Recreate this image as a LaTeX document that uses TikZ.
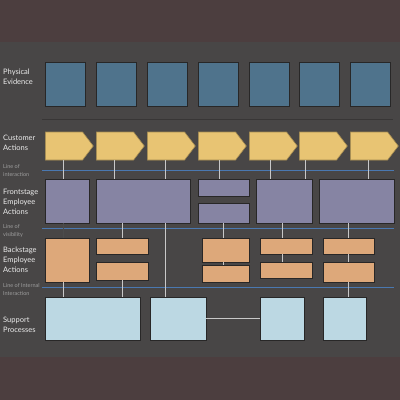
\documentclass[tikz,border=0pt]{standalone}
\usepackage{fontspec}
\setmainfont{Lato}
\usetikzlibrary{shapes.symbols}
\definecolor{bandcol}{RGB}{76,62,63}
\definecolor{bgcol}{RGB}{72,70,70}
\definecolor{evidcol}{RGB}{79,115,140}
\definecolor{custcol}{RGB}{232,196,115}
\definecolor{frontcol}{RGB}{134,132,163}
\definecolor{backcol}{RGB}{221,168,122}
\definecolor{suppcol}{RGB}{188,216,227}
\definecolor{bluecol}{RGB}{74,120,176}
\definecolor{linkcol}{RGB}{200,200,200}
\definecolor{sepcol}{RGB}{56,54,54}

\begin{document}
\begin{tikzpicture}[x=1pt, y=-1pt,
    lane/.style={font=\fontsize{7.5}{10}\selectfont, text=white!92!black, align=left, anchor=west, inner sep=0pt},
    linelabel/.style={font=\fontsize{5.5}{8}\selectfont, text=white!62!black, align=left, anchor=west, inner sep=0pt},
    box/.style={draw=black!45!bgcol, line width=0.6pt, inner sep=0pt},
    evid/.style={box, fill=evidcol, minimum width=40pt, minimum height=44pt},
    cust/.style={box, fill=custcol, draw=custcol!70!black, shape=signal, signal to=east, signal from=nowhere, signal pointer angle=105, minimum width=48pt, minimum height=28pt, anchor=west},
    front/.style={box, fill=frontcol},
    back/.style={box, fill=backcol},
    supp/.style={box, fill=suppcol, minimum height=43pt},
    link/.style={draw=linkcol, line width=0.8pt},
    darklink/.style={draw=black!70, line width=0.8pt},
    stageline/.style={draw=bluecol, line width=1.3pt}]

    % Background
    \fill[bandcol] (0,0) rectangle (400,400);
    \fill[bgcol] (0,42) rectangle (400,357);

    % Lane labels
    \node[lane] (lpe) at (3,77) {Physical\\Evidence};
    \node[lane] (lca) at (3,143) {Customer\\Actions};
    \node[linelabel] (lli) at (3,170.5) {Line of\\interaction};
    \node[lane] (lfe) at (3,202) {Frontstage\\Employee\\Actions};
    \node[linelabel] (llv) at (3,230.5) {Line of\\visibility};
    \node[lane] (lbe) at (3,260) {Backstage\\Employee\\Actions};
    \node[linelabel] (lint) at (3,289) {Line of Internal\\Interaction};
    \node[lane] (lsp) at (3,325) {Support\\Processes};

    % Separators
    \draw[sepcol, line width=1pt] (42,119.5) -- (393,119.5);
    \draw[stageline] (42,170.5) -- (394,170.5);
    \draw[stageline] (42,228.5) -- (394,228.5);
    \draw[stageline] (42,287.5) -- (394,287.5);

    % Physical evidence and customer actions
    \foreach \i/\x in {1/45, 2/96, 3/147, 4/198, 5/249, 6/299, 7/350} {
        \node[evid] (p\i) at (\x+20,84) {};
        \node[cust] (c\i) at (\x,146) {};
    }

    % Frontstage
    \node[front, minimum width=44pt, minimum height=44pt] (f1) at (67,201) {};
    \node[front, minimum width=94pt, minimum height=44pt] (f2) at (143,201) {};
    \node[front, minimum width=51pt, minimum height=17pt] (f3a) at (223.5,187.5) {};
    \node[front, minimum width=51pt, minimum height=20pt] (f3b) at (223.5,213) {};
    \node[front, minimum width=56pt, minimum height=44pt] (f4) at (284,201) {};
    \node[front, minimum width=75pt, minimum height=44pt] (f5) at (356.5,201) {};

    % Backstage
    \node[back, minimum width=44pt, minimum height=44pt] (b1) at (67,260) {};
    \node[back, minimum width=52pt, minimum height=16pt] (b2a) at (122,246) {};
    \node[back, minimum width=52pt, minimum height=18pt] (b2b) at (122,271) {};
    \node[back, minimum width=47pt, minimum height=24pt] (b3a) at (225.5,250) {};
    \node[back, minimum width=47pt, minimum height=17pt] (b3b) at (225.5,273.5) {};
    \node[back, minimum width=52pt, minimum height=16pt] (b4a) at (286,246) {};
    \node[back, minimum width=52pt, minimum height=16pt] (b4b) at (286,270) {};
    \node[back, minimum width=51pt, minimum height=16pt] (b5a) at (348.5,246) {};
    \node[back, minimum width=51pt, minimum height=20pt] (b5b) at (348.5,272) {};

    % Support processes
    \node[supp, minimum width=95pt] (s1) at (92.5,318.5) {};
    \node[supp, minimum width=56pt] (s2) at (178,318.5) {};
    \node[supp, minimum width=44pt] (s3) at (282,318.5) {};
    \node[supp, minimum width=43pt] (s4) at (344.5,318.5) {};

    % Link columns
    \foreach \n/\x in {a/63, b/114, c/122, d/165, e/219, f/223, g/270, h/282, i/305, j/348, k/368}
        \coordinate (v\n) at (\x,0);

    % Links
    \draw[link] (c1.south -| va) -- (f1.north -| va);
    \draw[darklink] (f1.south -| va) -- (b1.north -| va);
    \draw[link] (b1.south -| va) -- (s1.north -| va);
    \draw[link] (c2.south -| vb) -- (f2.north -| vb);
    \draw[link] (f2.south -| vc) -- (b2a.north -| vc);
    \draw[link] (b2b.south -| vc) -- (s1.north -| vc);
    \draw[link] (c3.south -| vd) -- (f2.north -| vd);
    \draw[link] (f2.south -| vd) -- (s2.north -| vd);
    \draw[link] (c4.south -| ve) -- (f3a.north -| ve);
    \draw[link] (f3b.south -| vf) -- (b3a.north -| vf);
    \draw[link] (b3a.south -| vf) -- (b3b.north -| vf);
    \draw[link] (c5.south -| vg) -- (f4.north -| vg);
    \draw[link] (c6.south -| vi) -- (f4.north -| vi);
    \draw[link] (f4.south -| vh) -- (b4a.north -| vh);
    \draw[link] (b4a.south -| vh) -- (b4b.north -| vh);
    \draw[link] (c7.south -| vk) -- (f5.north -| vk);
    \draw[link] (f5.south -| vj) -- (b5a.north -| vj);
    \draw[link] (b5a.south -| vj) -- (b5b.north -| vj);
    \draw[link] (b5b.south -| vj) -- (s4.north -| vj);
    \draw[link] (s2.east) -- (s3.west);
\end{tikzpicture}
\end{document}
